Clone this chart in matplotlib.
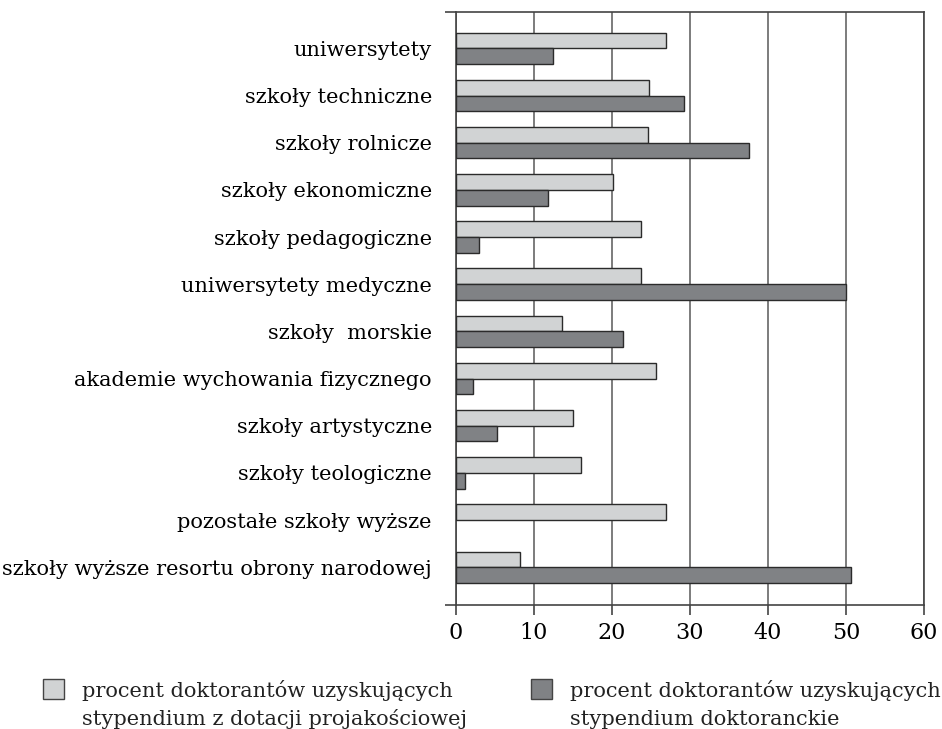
import numpy as np
import matplotlib
matplotlib.use("Agg")
import matplotlib.pyplot as plt
from matplotlib.patches import Rectangle

kategorie = [
    "uniwersytety",
    "szkoły techniczne",
    "szkoły rolnicze",
    "szkoły ekonomiczne",
    "szkoły pedagogiczne",
    "uniwersytety medyczne",
    "szkoły  morskie",
    "akademie wychowania fizycznego",
    "szkoły artystyczne",
    "szkoły teologiczne",
    "pozostałe szkoły wyższe",
    "szkoły wyższe resortu obrony narodowej",
]
projakosciowe = [26.9, 24.8, 24.6, 20.2, 23.8, 23.8, 13.6, 25.7, 15.1, 16.1, 27.0, 8.3]
doktoranckie = [12.5, 29.2, 37.6, 11.9, 3.0, 50.0, 21.5, 2.2, 5.3, 1.2, 0.0, 50.6]
xticks = [0, 10, 20, 30, 40, 50, 60]

etykieta_jasna = ["procent doktorantów uzyskujących", "stypendium z dotacji projakościowej"]
etykieta_ciemna = ["procent doktorantów uzyskujących", "stypendium doktoranckie"]

plt.rcParams['font.family'] = ['DejaVu Serif']

jasny = '#d1d3d4'
ciemny = '#808285'
krawedz = '#2b2b2b'
W, H = 942, 729

fig = plt.figure(figsize=(9.42, 7.29), dpi=100)
ax = fig.add_axes([455.5 / W, 1 - 605 / H, (924 - 455.5) / W, (605 - 12) / H])

y = np.arange(len(kategorie))
h = 0.333
lw_j = [1.0 if v > 0 else 0 for v in projakosciowe]
lw_c = [1.0 if v > 0 else 0 for v in doktoranckie]
ax.barh(y - h / 2, projakosciowe, height=h, color=jasny, edgecolor=krawedz, linewidth=lw_j, zorder=3)
ax.barh(y + h / 2, doktoranckie, height=h, color=ciemny, edgecolor=krawedz, linewidth=lw_c, zorder=3)

ax.set_xlim(0, 60)
ax.set_ylim(11.8, -0.77)
ax.set_xticks(xticks)
ax.set_xticklabels([str(v) for v in xticks], fontsize=16)
ax.set_yticks(y)
ax.set_yticklabels(kategorie, fontsize=15)
ax.tick_params(axis='y', length=0, pad=17)
ax.tick_params(axis='x', length=7, width=1.2, color='#444444', pad=5)
ax.set_yticks([11.8, -0.77], minor=True)
ax.tick_params(axis='y', which='minor', length=8, width=1.2, color='#444444')

ax.xaxis.grid(True, color='#666666', linewidth=1.2, zorder=0)
for s in ax.spines.values():
    s.set_color('#444444')
    s.set_linewidth(1.2)

# legenda rysowana recznie
for x0, tx, kolor, linie in [(43, 82, jasny, etykieta_jasna), (531, 570, ciemny, etykieta_ciemna)]:
    fig.patches.append(Rectangle((x0 / W, 1 - 699 / H), 21 / W, 20 / H, transform=fig.transFigure,
                                 facecolor=kolor, edgecolor='#444444', linewidth=1.0))
    fig.text(tx / W, 1 - 697 / H, linie[0], fontsize=15, va='baseline', ha='left', color='#222222')
    fig.text(tx / W, 1 - 725 / H, linie[1], fontsize=15, va='baseline', ha='left', color='#222222')

fig.savefig('out.png', dpi=100)
